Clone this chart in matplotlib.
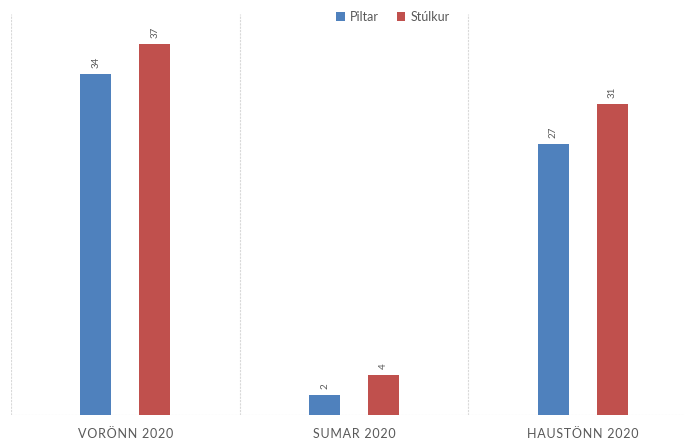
import matplotlib
matplotlib.use("Agg")
import matplotlib.pyplot as plt
import numpy as np

plt.rcParams['font.family'] = ['Lato', 'DejaVu Sans']

# Gögn
categories = ["VORÖNN 2020", "SUMAR 2020", "HAUSTÖNN 2020"]
piltar = [34, 2, 27]
stulkur = [37, 4, 31]
series_names = ["Piltar", "Stúlkur"]

blue = "#4F81BD"
red = "#C0504D"
grey = "#595959"

fig = plt.figure(figsize=(6.84, 4.42), dpi=100)
ax = fig.add_axes([11 / 684, 1 - 415 / 442, 686 / 684, (415 - 14) / 442])

x = np.arange(len(categories))
w = 0.135
off = 0.129
b1 = ax.bar(x - off, piltar, width=w, color=blue, label=series_names[0], zorder=3)
b2 = ax.bar(x + off, stulkur, width=w, color=red, label=series_names[1], zorder=3)

# Tölur fyrir ofan súlurnar
for bars, vals in [(b1, piltar), (b2, stulkur)]:
    for rect, v in zip(bars, vals):
        ax.text(rect.get_x() + rect.get_width() / 2, v + 0.6, str(v), rotation=90,
                ha="center", va="bottom", fontsize=7, color=grey)

ax.set_xlim(-0.5, len(categories) - 0.5)
ax.set_ylim(0, 40)

# Lóðréttar línur milli flokka
for b in np.arange(-0.5, len(categories), 1.0):
    ax.axvline(b, color="#D9D9D9", linestyle=(0, (2, 1)), linewidth=0.8, zorder=1)
ax.axhline(0, color="#D9D9D9", linestyle=(0, (2, 1)), linewidth=0.8, zorder=1)

for s in ax.spines.values():
    s.set_visible(False)
ax.set_yticks([])
ax.set_xticks(x)
# stafabil eins og í frummyndinni
spaced = ["\u200a".join(c) for c in categories]
ax.set_xticklabels(spaced, fontsize=9, color=grey)
ax.tick_params(axis="x", length=0, pad=9)

leg = fig.legend(loc="center", bbox_to_anchor=(393 / 684, 1 - 17 / 442), ncol=2, frameon=False,
                 fontsize=9, handlelength=0.7, handleheight=0.7, handletextpad=0.4, columnspacing=1.4)
for t in leg.get_texts():
    t.set_color(grey)

fig.savefig("out.png", dpi=100)
